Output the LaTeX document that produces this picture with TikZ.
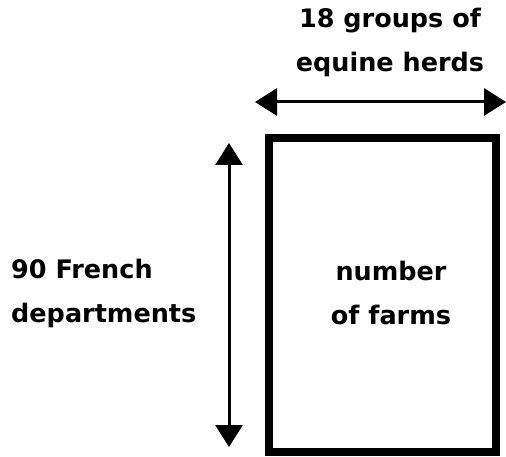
\documentclass[tikz,border=0pt]{standalone}
\usepackage{fontspec}
\setmainfont{DejaVu Sans}
\usetikzlibrary{arrows.meta}

\begin{document}
\begin{tikzpicture}[
x=1pt,y=-1pt,
font=\fontsize{25.5}{44}\selectfont\bfseries,
label/.style={align=center,inner sep=0pt},
matrixbox/.style={draw,line width=8.5pt},
dim/.style={line width=3pt,{Triangle[length=22pt,width=27pt]}-{Triangle[length=22pt,width=27pt]}}
]
\useasboundingbox (0,0) rectangle (506,457);

% Box and its dimensions
\draw [matrixbox] (269,138) rectangle (496,452);
\node [label] (cells) at (391,293) {number\\of farms};

\coordinate (hleft) at (255,102);
\coordinate (hright) at (506,102);
\draw [dim] (hleft) -- (hright);
\node [label] (cols) at (390,42) {18 groups of\\equine herds};

\coordinate (vtop) at (229,143);
\coordinate (vbottom) at (229,447);
\draw [dim] (vtop) -- (vbottom);
\node [label,align=left,anchor=west] (rows) at (11,293) {90 French\\departments};
\end{tikzpicture}
\end{document}
